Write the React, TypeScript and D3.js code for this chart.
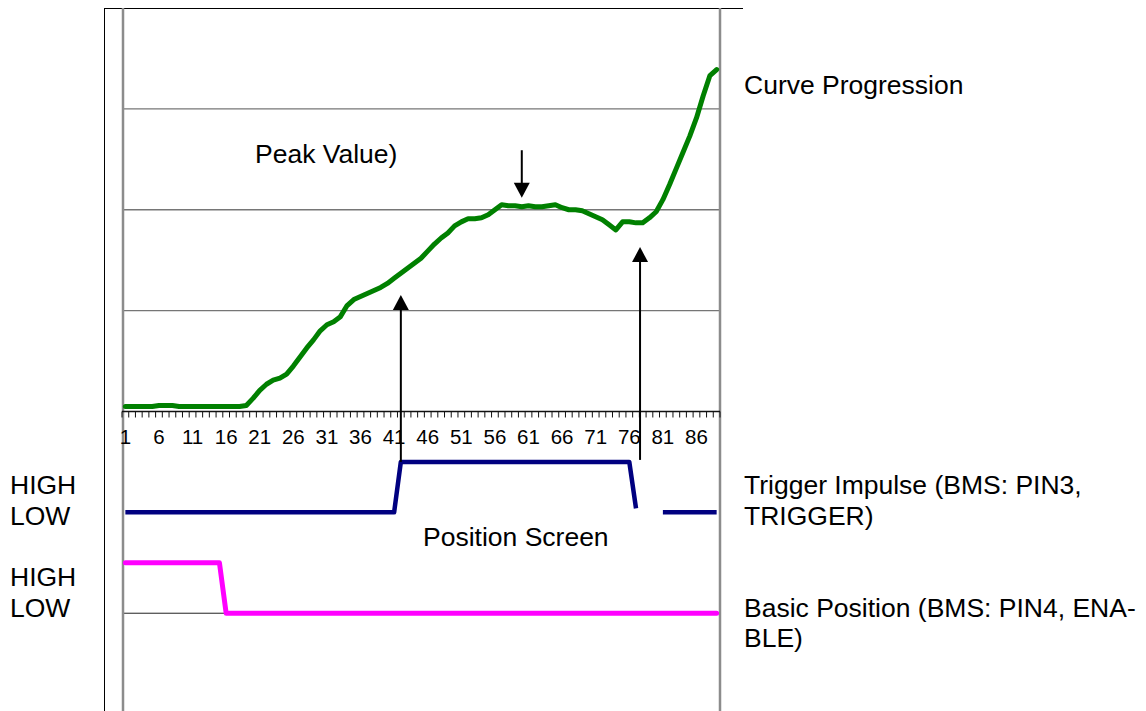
import React from "react";
import * as d3 from "d3";

// ---- Data ----
const categories: number[] = d3.range(1, 90); // 1..89
const tickLabels: number[] = [1, 6, 11, 16, 21, 26, 31, 36, 41, 46, 51, 56, 61, 66, 71, 76, 81, 86];

// Curve progression (green), one value per category
const curveValues: number[] = [
  0.05, 0.05, 0.05, 0.05, 0.05, 0.06, 0.06, 0.06, 0.05, 0.05,
  0.05, 0.05, 0.05, 0.05, 0.05, 0.05, 0.05, 0.05, 0.06, 0.13,
  0.21, 0.27, 0.31, 0.33, 0.37, 0.45, 0.54, 0.63, 0.71, 0.8,
  0.86, 0.89, 0.94, 1.05, 1.11, 1.14, 1.17, 1.2, 1.23, 1.27,
  1.32, 1.37, 1.42, 1.47, 1.52, 1.59, 1.66, 1.72, 1.77, 1.84,
  1.88, 1.91, 1.91, 1.92, 1.95, 2.0, 2.05, 2.04, 2.04, 2.03,
  2.04, 2.03, 2.03, 2.04, 2.05, 2.02, 2.0, 2.0, 1.99, 1.96,
  1.93, 1.9, 1.85, 1.8, 1.88, 1.88, 1.87, 1.87, 1.92, 1.98,
  2.1, 2.25, 2.41, 2.57, 2.73, 2.91, 3.13, 3.33, 3.39,
];

// Trigger impulse (navy): HIGH = -0.5, LOW = -1 ; null = gap
const triggerValues: (number | null)[] = [
  ...Array(41).fill(-1),
  ...Array(35).fill(-0.5),
  -0.96,
  null, null, null,
  ...Array(9).fill(-1),
];

// Basic position (magenta): HIGH = -1.5, LOW = -2
const basicValues: number[] = [...Array(15).fill(-1.5), ...Array(74).fill(-2)];

const gridValues: number[] = [1, 2, 3];

// Arrows: category position, start value, tip value
const arrows = [
  { x: 42.0, from: -0.5, to: 1.155 },
  { x: 77.6, from: -0.48, to: 1.63 },
  { x: 60.0, from: 2.59, to: 2.12 },
];

const FONT = "'Liberation Sans', Arial, Helvetica, sans-serif";

export default function App() {
  const W = 1146;
  const H = 711;
  const left = 122;
  const right = 720;

  const x = d3.scaleLinear().domain([0.5, 89.5]).range([left, right]);
  const y = d3.scaleLinear().domain([-3, 4]).range([714.1, 8]);

  const lineGen = d3
    .line<number | null>()
    .defined((d) => d !== null)
    .x((_, i) => x(categories[i]))
    .y((d) => y(d as number));

  const tickBoundaries = d3.range(0.5, 90, 1);

  const arrowHead = (ax: number, fromV: number, toV: number) => {
    const tx = x(ax);
    const ty = y(toV);
    const dir = y(fromV) > ty ? 1 : -1;
    const len = 15;
    const half = 8;
    return `M${tx},${ty} L${tx - half},${ty + dir * len} L${tx + half},${ty + dir * len} Z`;
  };

  return (
    <svg
      width={W}
      height={H}
      style={{ position: "absolute", left: 0, top: 0, background: "#fff" }}
      fontFamily={FONT}
    >
      {/* outer frame */}
      <line x1={104.5} x2={104.5} y1={8} y2={H} stroke="#000" strokeWidth={1} />
      <line x1={104} x2={743} y1={8.5} y2={8.5} stroke="#000" strokeWidth={1} />

      {/* gridlines */}
      {gridValues.map((g) => (
        <line key={g} x1={left} x2={right} y1={y(g)} y2={y(g)} stroke="#767676" strokeWidth={1.4} />
      ))}
      <line x1={left} x2={right} y1={y(-2)} y2={y(-2)} stroke="#222" strokeWidth={1} />

      {/* plot area side borders */}
      <line x1={left + 1} x2={left + 1} y1={8} y2={H} stroke="#8c8c8c" strokeWidth={2.5} />
      <line x1={right} x2={right} y1={8} y2={H} stroke="#8c8c8c" strokeWidth={2.5} />

      {/* category axis */}
      <line x1={left} x2={right} y1={y(0)} y2={y(0)} stroke="#111" strokeWidth={1.3} />
      {tickBoundaries.map((t) => (
        <line key={t} x1={x(t)} x2={x(t)} y1={y(0)} y2={y(0) + 6} stroke="#111" strokeWidth={1} />
      ))}
      {tickLabels.map((t) => (
        <text key={t} x={x(t)} y={444} fontSize={20.5} textAnchor="middle" fill="#000">
          {t}
        </text>
      ))}

      {/* series */}
      <path
        d={lineGen(basicValues) || ""}
        fill="none"
        stroke="#FF00FF"
        strokeWidth={5}
        strokeLinejoin="round"
        strokeLinecap="round"
      />
      <path
        d={lineGen(triggerValues) || ""}
        fill="none"
        stroke="#000080"
        strokeWidth={4.5}
        strokeLinejoin="round"
        strokeLinecap="butt"
      />
      <path
        d={lineGen(curveValues) || ""}
        fill="none"
        stroke="#008000"
        strokeWidth={5}
        strokeLinejoin="round"
        strokeLinecap="round"
      />

      {/* arrows */}
      {arrows.map((a, i) => {
        const tipOffset = y(a.from) > y(a.to) ? 14 : -14;
        return (
          <g key={i}>
            <line
              x1={x(a.x)}
              x2={x(a.x)}
              y1={y(a.from)}
              y2={y(a.to) + tipOffset}
              stroke="#000"
              strokeWidth={2}
            />
            <path d={arrowHead(a.x, a.from, a.to)} fill="#000" />
          </g>
        );
      })}

      {/* annotations */}
      <g fontSize={26.5} fill="#000">
        <text x={744} y={94}>Curve Progression</text>
        <text x={255} y={163}>Peak Value)</text>
        <text x={423} y={546}>Position Screen</text>
        <text x={10} y={494}>HIGH</text>
        <text x={10} y={524.5}>LOW</text>
        <text x={10} y={586}>HIGH</text>
        <text x={10} y={616.5}>LOW</text>
        <text x={744} y={494}>Trigger Impulse (BMS: PIN3,</text>
        <text x={744} y={524.5}>TRIGGER)</text>
        <text x={744} y={616.5}>Basic Position (BMS: PIN4, ENA-</text>
        <text x={744} y={646.5}>BLE)</text>
      </g>
    </svg>
  );
}
